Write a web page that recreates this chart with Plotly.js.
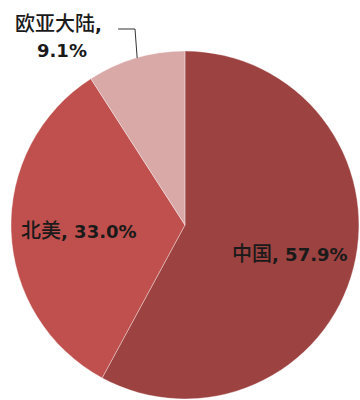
<!DOCTYPE html>
<html>
<head>
<meta charset="utf-8">
<script src="https://cdn.plot.ly/plotly-3.0.1.min.js"></script>
<style>html,body{margin:0;padding:0;background:#fff;}#chart{width:360px;height:400px;}</style>
</head>
<body>
<div id="chart"></div>
<script>
const regions = ['中国', '北美', '欧亚大陆'];
const shares = [57.9, 33.0, 9.1];
const sliceColors = ['#9C4240', '#C0504D', '#D9A9A8'];

const numFont = 'DejaVu Sans, Verdana, sans-serif';
const cjkSpan = (s) => '<span style="font-family:\'Noto Sans CJK SC\';font-size:20px;font-weight:500">' + s + '</span>';
const numPart = (v) => '<b>' + v.toFixed(1) + '%</b>';
const lbl = (i) => cjkSpan(regions[i]) + '<b>, </b>' + numPart(shares[i]);

const trace = {
  type: 'pie',
  labels: regions,
  values: shares,
  sort: false,
  direction: 'clockwise',
  rotation: 0,
  textinfo: 'none',
  hoverinfo: 'none',
  marker: { colors: sliceColors, line: { color: 'rgba(255,255,255,0.35)', width: 1 } },
  domain: { x: [0.0306, 0.997], y: [0.0025, 0.8725] },
  showlegend: false
};

const annFont = { family: numFont, size: 18, color: '#1a1a1a' };

const layout = {
  width: 360, height: 400,
  margin: { l: 0, r: 0, t: 0, b: 0 },
  paper_bgcolor: '#fff',
  showlegend: false,
  font: annFont,
  shapes: [
    { type: 'path', xref: 'paper', yref: 'paper',
      path: 'M 0.328 0.9275 L 0.375 0.9275 L 0.381 0.855',
      line: { color: '#333', width: 1 } }
  ],
  annotations: [
    { xref: 'paper', yref: 'paper', x: 289.5/360, y: 1 - 253/400, text: lbl(0), showarrow: false,
      xanchor: 'center', yanchor: 'middle', font: annFont },
    { xref: 'paper', yref: 'paper', x: 78.5/360, y: 1 - 230/400, text: lbl(1), showarrow: false,
      xanchor: 'center', yanchor: 'middle', font: annFont },
    { xref: 'paper', yref: 'paper', x: 13/360, y: 1 - 22/400,
      text: cjkSpan(regions[2]) + '<b>,</b>', showarrow: false,
      xanchor: 'left', yanchor: 'middle', font: annFont },
    { xref: 'paper', yref: 'paper', x: 62/360, y: 1 - 51/400,
      text: numPart(shares[2]), showarrow: false,
      xanchor: 'center', yanchor: 'middle', font: annFont }
  ]
};

Plotly.newPlot('chart', [trace], layout, { displayModeBar: false, staticPlot: true });
</script>
</body>
</html>
